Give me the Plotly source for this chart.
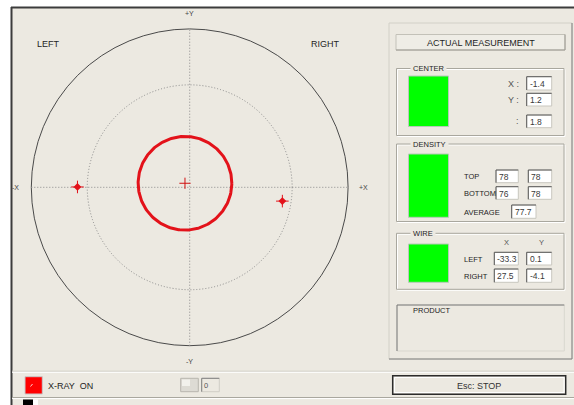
import numpy as np
import plotly.graph_objects as go

# ---------------- data ----------------
ring_radii = [47.0, 30.4]          # outer solid ring, inner dotted ring
center_xy = [-1.4, 1.2]            # measured centre
center_radius = [13.9]             # red circle radius
center_value = [1.8]
wire_names = ["LEFT", "RIGHT"]
wire_x = [-33.3, 27.5]
wire_y = [0.1, -4.1]
density_top = [78, 78]
density_bottom = [76, 78]
density_average = [77.7]
axis_labels = ["+Y", "-Y", "-X", "+X"]
side_labels = ["LEFT", "RIGHT"]

# ---------------- geometry (pixel layout) ----------------
W, H = 574, 405
CX, CY, S = 189.7, 187.3, 3.37
BG = "#ECE9E1"
FONT = "Liberation Sans, Arial, sans-serif"
TXT = "#1e1e1e"
RED = "#e3121a"


def px(x):
    return x / W


def py(y):
    return 1 - y / H


shapes = []
annotations = []


def rect(x0, y0, x1, y1, fill=None, line=None, lw=1, layer="below"):
    shapes.append(dict(type="rect", xref="paper", yref="paper",
                       x0=px(x0), x1=px(x1), y0=py(y1), y1=py(y0),
                       fillcolor=fill if fill else "rgba(0,0,0,0)",
                       line=dict(color=line if line else "rgba(0,0,0,0)", width=lw if line else 0),
                       layer=layer))


def hline(x0, x1, y, color, lw=1, layer="below"):
    shapes.append(dict(type="line", xref="paper", yref="paper",
                       x0=px(x0), x1=px(x1), y0=py(y), y1=py(y),
                       line=dict(color=color, width=lw), layer=layer))


def vline(x, y0, y1, color, lw=1, layer="below"):
    shapes.append(dict(type="line", xref="paper", yref="paper",
                       x0=px(x), x1=px(x), y0=py(y0), y1=py(y1),
                       line=dict(color=color, width=lw), layer=layer))


def text(x, y, s, size=9, anchor="left", color=TXT, bg=None):
    a = dict(xref="paper", yref="paper", x=px(x), y=py(y), text=s,
             showarrow=False, xanchor=anchor, yanchor="middle",
             font=dict(family=FONT, size=size, color=color),
             borderpad=0)
    if bg:
        a["bgcolor"] = bg
    annotations.append(a)


def textbox(x0, y0, x1, y1, s):
    rect(x0, y0, x1, y1, fill="#FFFFFF", line="#c9c7bf")
    hline(x0, x1, y0, "#5a5a5a")
    vline(x0, y0, y1, "#5a5a5a")
    text(x0 + 2, (y0 + y1) / 2 + 0.5, s, size=8.5, color="#3a3a3a")


def groupbox(x0, y0, x1, y1, label):
    rect(x0 + 1, y0 + 1, x1 + 1, y1 + 1, line="#FFFFFF")
    rect(x0, y0, x1, y1, line="#a9a79e")
    text(x0 + 13, y0, "&nbsp;" + label + "&nbsp;", size=7.5, bg=BG)


def green(x0, y0, x1, y1):
    rect(x0, y0, x1, y1, fill="#00FF00", line="#b8c8b8")


# ---------------- frame / background ----------------
rect(0, 0, W, 7, fill="#FFFFFF")
rect(0, 0, 11, H, fill="#FFFFFF")
hline(11, W, 7.5, "#3c3c3c", lw=2)
vline(11.5, 7, H, "#3c3c3c", lw=2)

# bottom bar separators
hline(12, W, 371.2, "#cfcdc4")
hline(12, W, 372.3, "#FFFFFF")
hline(12, W, 397.5, "#a9a79e")
hline(12, W, 398.6, "#FFFFFF")
rect(23, 399.5, 33, H, fill="#000000")
rect(33, 399.5, 38, H, fill="#FFFFFF")

# ---------------- right panel ----------------
rect(389, 23, 572, 359, line="#d2d0c7")
hline(389, 572, 359, "#808080")
vline(572, 23, 359, "#808080")

# ACTUAL MEASUREMENT button
rect(396, 34.5, 565, 50, fill="#EFEDE6", line="#c3c1b8")
hline(396, 565, 50, "#9c9a92")
vline(565, 34.5, 50, "#9c9a92")
text(481, 42.5, "ACTUAL MEASUREMENT", size=9, anchor="center")

# CENTER group
groupbox(396.5, 68.5, 564, 135.5, "CENTER")
green(408.5, 76, 448.5, 126.5)
text(520, 83.5, "X :", size=9, anchor="right", color="#555555")
text(520, 99.7, "Y :", size=9, anchor="right", color="#555555")
text(520, 121.3, ":", size=9, anchor="right", color="#555555")
textbox(526.7, 76.7, 551.7, 90, f"{center_xy[0]}")
textbox(526.7, 93.3, 551.7, 106, f"{center_xy[1]}")
textbox(526.7, 115, 551.7, 127.7, f"{center_value[0]}")

# DENSITY group
groupbox(396.5, 144, 564, 221.5, "DENSITY")
green(408.5, 154, 448.5, 217.3)
text(462.7, 176.8, "TOP", size=7.5)
text(462.7, 193.3, "BOTTOM", size=7.5)
text(462.7, 212, "AVERAGE", size=7.5)
textbox(496, 170, 518.3, 182.7, f"{density_top[0]}")
textbox(528.3, 170, 551.7, 182.7, f"{density_top[1]}")
textbox(496, 186.7, 518.3, 199.3, f"{density_bottom[0]}")
textbox(528.3, 186.7, 551.7, 199.3, f"{density_bottom[1]}")
textbox(511.7, 205, 536, 218.3, f"{density_average[0]}")

# WIRE group
groupbox(396.5, 233.3, 564, 289.3, "WIRE")
green(408.5, 244, 448.5, 282.3)
text(506.3, 242.7, "X", size=7.5, anchor="center", color="#555555")
text(541, 242.7, "Y", size=7.5, anchor="center", color="#555555")
row_y = [(252.3, 265), (269, 282.3)]
for name, wx, wy, (ya, yb) in zip(wire_names, wire_x, wire_y, row_y):
    text(462.7, (ya + yb) / 2 + 0.5, name, size=7.5)
    textbox(494.3, ya, 518.3, yb, f"{wx}")
    textbox(526.7, ya, 551.7, yb, f"{wy}")

# PRODUCT box
rect(397, 305, 564.3, 351, line="#d9d7cf")
hline(397, 564.3, 305, "#7a7a7a")
vline(397, 305, 351, "#7a7a7a")
text(411.7, 310.5, "PRODUCT", size=7.5)

# Esc STOP button
rect(392.7, 375.7, 565.7, 394.3, fill=BG, line="#2c2c2c", lw=1.5)
rect(394.5, 377.5, 564, 392.5, line="#ffffff")
text(479, 385.5, "Esc: STOP", size=9, anchor="center", color="#333333")

# X-RAY ON indicator
rect(25, 376.7, 42.3, 394, fill="#FF0000", line="#c8c8c8")
shapes.append(dict(type="line", xref="paper", yref="paper", x0=px(30.5), x1=px(32.5),
                   y0=py(386.5), y1=py(384), line=dict(color="#ffd0d0", width=1), layer="above"))
text(46.7, 385.7, "X-RAY&nbsp; ON", size=9)

# small slider button + value
rect(180.7, 378.3, 198.3, 391.7, fill="#dddbd4", line="#b8b6ae")
rect(182, 379.5, 190, 386, fill="#f2f1ec")
rect(201.7, 378.3, 219.3, 391.7, fill=BG, line="#d0cec6")
hline(201.7, 219.3, 378.3, "#808080")
vline(201.7, 378.3, 391.7, "#808080")
text(203.5, 385.2, "0", size=7.5, color="#555555")

# ---------------- chart (data coordinates) ----------------
R_out, R_in = ring_radii
DOT = "1px,2px"
shapes.append(dict(type="circle", xref="x", yref="y", x0=-R_out, x1=R_out, y0=-R_out, y1=R_out,
                   line=dict(color="#4a4a4a", width=1), layer="below"))
shapes.append(dict(type="circle", xref="x", yref="y", x0=-R_in, x1=R_in, y0=-R_in, y1=R_in,
                   line=dict(color="#8a8a8a", width=1, dash=DOT), layer="below"))
shapes.append(dict(type="line", xref="x", yref="y", x0=-R_out, x1=R_out, y0=0, y1=0,
                   line=dict(color="#8a8a8a", width=1, dash=DOT), layer="below"))
shapes.append(dict(type="line", xref="x", yref="y", x0=0, x1=0, y0=-R_out, y1=R_out,
                   line=dict(color="#8a8a8a", width=1, dash=DOT), layer="below"))

# red measured circle
t = np.linspace(0, 2 * np.pi, 240)
fig = go.Figure()
fig.add_trace(go.Scatter(x=center_xy[0] + center_radius[0] * np.cos(t),
                         y=center_xy[1] + center_radius[0] * np.sin(t),
                         mode="lines", line=dict(color=RED, width=3),
                         hoverinfo="skip", showlegend=False))
fig.add_trace(go.Scatter(x=[center_xy[0]], y=[center_xy[1]], mode="markers",
                         marker=dict(symbol="cross-thin-open", size=8, color="#d01010",
                                     line=dict(color="#d01010", width=1)),
                         hoverinfo="skip", showlegend=False))
fig.add_trace(go.Scatter(x=wire_x, y=wire_y, mode="markers",
                         marker=dict(symbol="cross-thin-open", size=9, color=RED,
                                     line=dict(color=RED, width=1)),
                         hoverinfo="skip", showlegend=False))
fig.add_trace(go.Scatter(x=wire_x, y=wire_y, mode="markers",
                         marker=dict(symbol="diamond", size=6, color=RED, line=dict(width=0)),
                         hoverinfo="skip", showlegend=False))

# axis labels around outer ring
off = 4.6
lab_pos = [(0, R_out + off), (0, -(R_out + off)), (-(R_out + off), 0), (R_out + off, 0)]
for lab, (lx, ly) in zip(axis_labels, lab_pos):
    annotations.append(dict(xref="x", yref="y", x=lx, y=ly, text=lab, showarrow=False,
                            xanchor="center", yanchor="middle",
                            font=dict(family=FONT, size=7, color="#444444")))

# LEFT / RIGHT captions
text(36, 43.7, side_labels[0], size=9)
text(310, 43.7, side_labels[1], size=9)

fig.update_layout(
    width=W, height=H, autosize=False,
    margin=dict(l=0, r=0, t=0, b=0, pad=0),
    paper_bgcolor=BG, plot_bgcolor=BG,
    xaxis=dict(range=[(0 - CX) / S, (W - CX) / S], visible=False, fixedrange=True),
    yaxis=dict(range=[(CY - H) / S, CY / S], visible=False, fixedrange=True),
    shapes=shapes, annotations=annotations,
    showlegend=False,
)

fig.write_html("out.html", config={"displayModeBar": False},
               post_script="document.body.style.margin='0';document.body.style.overflow='hidden';")
